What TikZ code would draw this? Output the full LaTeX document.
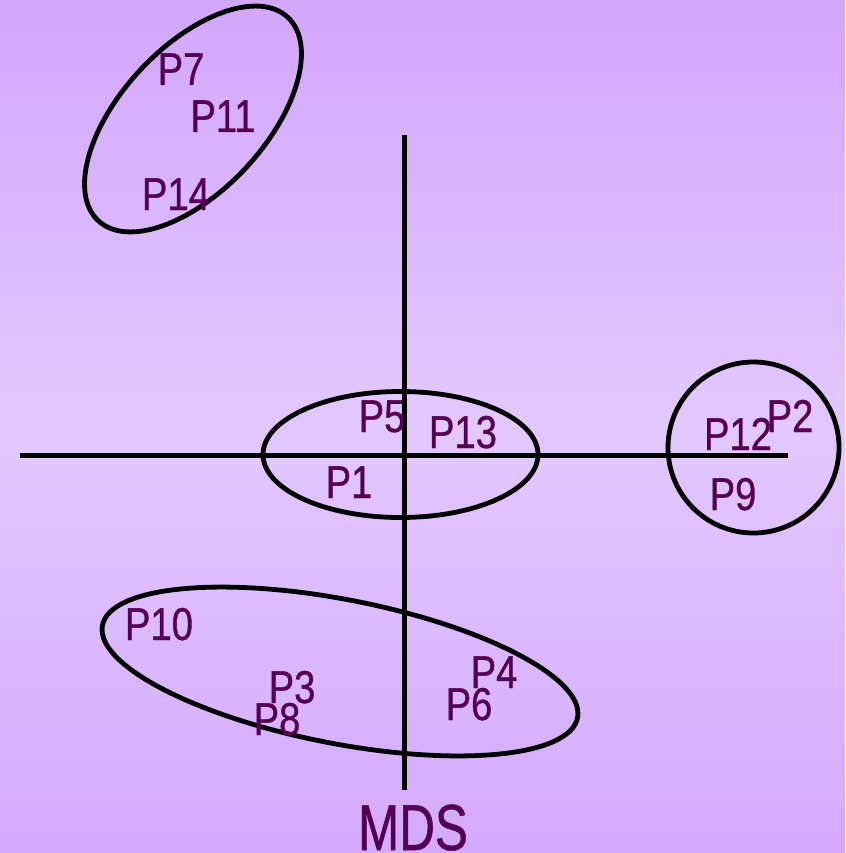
\documentclass[tikz,border=0pt]{standalone}
\usepackage{fontspec}
\newfontfamily\labfont{Liberation Sans}[FakeStretch=0.83,FakeBold=0.8]
\newfontfamily\mdsfont{Liberation Sans}[FakeStretch=0.76,FakeBold=0.8]
\definecolor{bgtop}{RGB}{210,166,251}
\definecolor{bgmid}{RGB}{226,200,255}
\definecolor{bgbot}{RGB}{212,170,252}
\definecolor{labcol}{RGB}{85,0,82}
\tikzset{
  lab/.style={inner sep=0pt, anchor=base, text=labcol, font=\labfont\fontsize{46}{50}\selectfont},
  axisline/.style={line width=5pt, black},
  ring/.style={line width=4.8pt, black}
}
\begin{document}
\begin{tikzpicture}[x=1pt,y=1pt]
\useasboundingbox (0,0) rectangle (845,-853);
\foreach \i in {0,...,84}{
  \pgfmathsetmacro\myt{(\i+0.5)/85}
  \pgfmathsetmacro\pct{\myt<0.5 ? 200*\myt : 200*(1-\myt)}
  \ifdim \myt pt<0.5pt \colorlet{stripc}{bgmid!\pct!bgtop}\else \colorlet{stripc}{bgmid!\pct!bgbot}\fi
  \fill[stripc] (0,{-\i*10.0353}) rectangle (845,{-\i*10.0353-10.7});
}
% axes
\coordinate (hl) at (20,-455);
\coordinate (hr) at (788,-455);
\coordinate (vt) at (404,-135);
\coordinate (vb) at (404,-790);
\draw[axisline] (hl) -- (hr);
\draw[axisline] (vt) -- (vb);
% groups
\draw[ring, rotate around={47:(193,-119)}] (193,-119) ellipse [x radius=139, y radius=72];
\draw[ring] (400.5,-454.5) ellipse [x radius=137.5, y radius=63];
\draw[ring] (753.5,-447.5) circle [radius=85.5];
\draw[ring, rotate around={-11:(340,-671.5)}] (340,-671.5) ellipse [x radius=242, y radius=72];
% labels
\node[lab] (p7)  at (181,-85)  {P7};
\node[lab] (p11) at (223,-132) {P11};
\node[lab] (p14) at (176,-210) {P14};
\node[lab] (p5)  at (382,-432) {P5};
\node[lab] (p13) at (463,-448) {P13};
\node[lab] (p1)  at (349,-498) {P1};
\node[lab] (p12) at (738,-450) {P12};
\node[lab] (p2)  at (790,-432) {P2};
\node[lab] (p9)  at (733,-510) {P9};
\node[lab] (p10) at (159,-640) {P10};
\node[lab] (p3)  at (292,-703) {P3};
\node[lab] (p8)  at (277,-735) {P8};
\node[lab] (p4)  at (494,-688) {P4};
\node[lab] (p6)  at (469,-720) {P6};
\node[inner sep=0pt, anchor=base, text=labcol, font=\mdsfont\fontsize{65}{70}\selectfont] (mds) at (413,-850) {MDS};
\end{tikzpicture}
\end{document}
